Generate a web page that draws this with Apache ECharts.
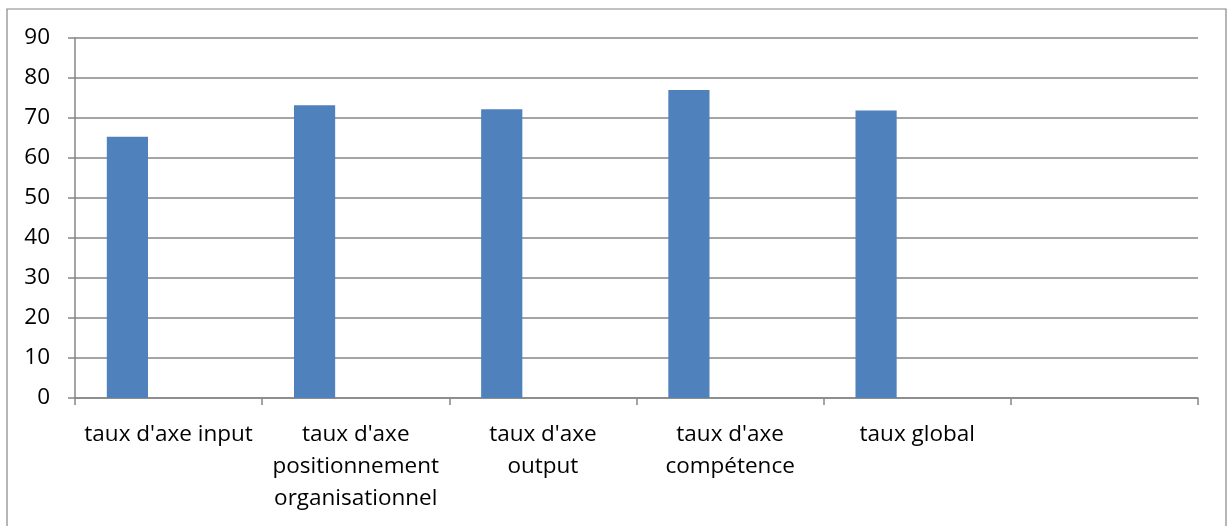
<!DOCTYPE html>
<html>
<head>
<meta charset="utf-8">
<script src="https://cdn.jsdelivr.net/npm/echarts@6/dist/echarts.min.js"></script>
<style>
  html, body { margin: 0; padding: 0; background: #fff; }
  #chart { width: 1227px; height: 526px; }
</style>
</head>
<body>
<div id="chart"></div>
<script>
// Category labels (line breaks as they wrap under each column)
const categories = [
  "taux d'axe input",
  "taux d'axe\npositionnement\norganisationnel",
  "taux d'axe\noutput",
  "taux d'axe\ncompétence",
  "taux global",
  ""
];
// Rates per axis (%)
const rates = [65.3, 73.2, 72.2, 77.0, 71.9, null];
// Two empty companion series keep the column at the left of each slot
const emptyA = [null, null, null, null, null, null];
const emptyB = [null, null, null, null, null, null];

const yMin = 0, yMax = 90, yStep = 10;
const gridColor = '#868686';
const font = 'Open Sans';

const chart = echarts.init(document.getElementById('chart'), null, { renderer: 'canvas' });
chart.setOption({
  animation: false,
  backgroundColor: '#fff',
  grid: { left: 75, right: 29, top: 38, bottom: 128, containLabel: false },
  graphic: [{
    type: 'rect',
    shape: { x: 7, y: 9, width: 1219, height: 520 },
    style: { fill: 'none', stroke: gridColor, lineWidth: 1.2 },
    silent: true
  }],
  xAxis: {
    type: 'category',
    data: categories,
    boundaryGap: true,
    axisLine: { show: true, lineStyle: { color: gridColor, width: 1.5 } },
    axisTick: { show: true, length: 7, interval: 0, lineStyle: { color: gridColor, width: 1.5 } },
    axisLabel: {
      interval: 0, color: '#000', fontFamily: font, fontSize: 22.5,
      lineHeight: 32, margin: 21
    },
    splitLine: { show: false }
  },
  yAxis: {
    type: 'value',
    min: yMin, max: yMax, interval: yStep,
    axisLine: { show: true, lineStyle: { color: gridColor, width: 1.5 } },
    axisTick: { show: true, length: 7, lineStyle: { color: gridColor, width: 1.5 } },
    axisLabel: { color: '#000', fontFamily: font, fontSize: 22.5, margin: 25 },
    splitLine: { show: true, lineStyle: { color: gridColor, width: 1.5 } }
  },
  series: [
    { type: 'bar', data: rates, barGap: '0%', barCategoryGap: '34%',
      itemStyle: { color: '#4f81bd' } },
    { type: 'bar', data: emptyA, barGap: '0%', barCategoryGap: '34%',
      itemStyle: { color: '#c0504d' } },
    { type: 'bar', data: emptyB, barGap: '0%', barCategoryGap: '34%',
      itemStyle: { color: '#9bbb59' } }
  ]
});
</script>
</body>
</html>
